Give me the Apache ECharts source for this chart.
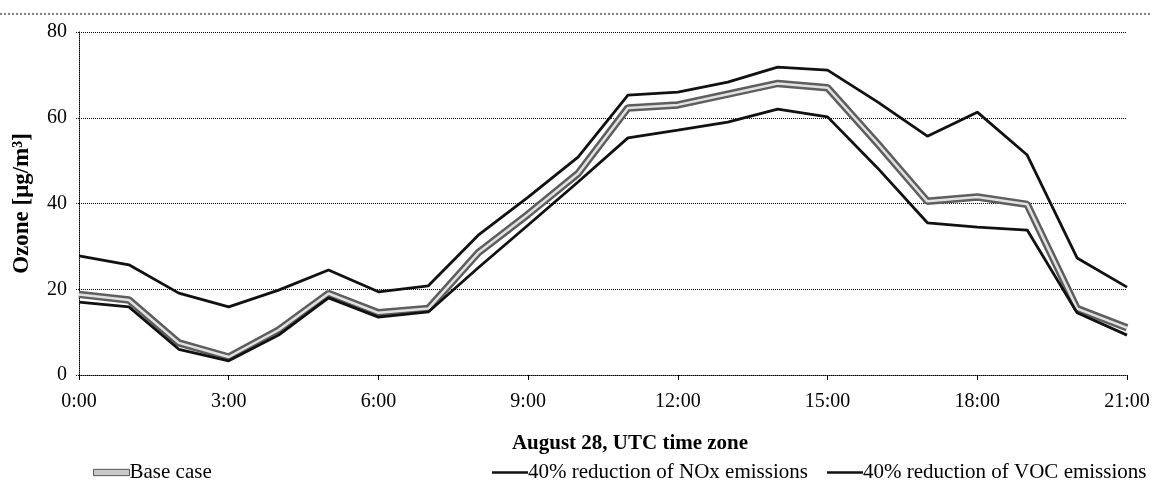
<!DOCTYPE html>
<html>
<head>
<meta charset="utf-8">
<title>Ozone scenarios, August 28</title>
<script src="https://cdn.jsdelivr.net/npm/echarts@6/dist/echarts.min.js"></script>
<style>
    html, body { margin: 0; padding: 0; background: #fff; }
    #chart { width: 1152px; height: 498px; }
</style>
</head>
<body>
<div id="chart"></div>
<script>
// Hourly ozone (ug/m3).
var HOURS = ['0:00', '1:00', '2:00', '3:00', '4:00', '5:00', '6:00', '7:00',
    '8:00', '9:00', '10:00', '11:00', '12:00', '13:00', '14:00', '15:00',
    '16:00', '17:00', '18:00', '19:00', '20:00', '21:00'];
var BASE_CASE = [18.8, 17.5, 7.5, 4.2, 10.5, 19, 14.5, 15.5, 28.5, 37.5, 47,
    62.3, 63, 65.5, 68, 67, 54, 40.5, 41.5, 39.8, 15.5, 11];
var NOX_CUT = [27.8, 25.7, 19.1, 15.9, 19.8, 24.5, 19.4, 20.8, 32.6, 41.5, 50.8,
    65.3, 66, 68.3, 71.8, 71.1, 63.7, 55.7, 61.3, 51.3, 27.3, 20.5];
var VOC_CUT = [17, 15.9, 6, 3.3, 9.3, 18, 13.5, 14.7, 25, 35, 45,
    55.3, 57.1, 59, 62, 60.2, 48.3, 35.5, 34.5, 33.8, 14.5, 9.3];
var Y_TICKS = [0, 20, 40, 60, 80];

(function () {
    'use strict';

    var FONT = '"Liberation Serif", "Times New Roman", serif';
    var INK = '#111';
    var names = ['Base case', '40% reduction of NOx emissions', '40% reduction of VOC emissions'];

    // One legend per entry so each can sit where the scan has it.
    function legendAt(left, item) {
        return {
            data: [item],
            left: left,
            top: 457,
            itemWidth: 36,
            itemHeight: 14,
            itemGap: 0,
            textStyle: { fontFamily: FONT, fontSize: 21, color: '#000', padding: [0, 0, 0, -5] }
        };
    }

    var lineIcon = 'path://M0,0 L36,0 L36,2.5 L0,2.5 Z';

    var chart = echarts.init(document.getElementById('chart'));
    chart.setOption({
        animation: false,
        backgroundColor: '#fff',
        grid: { left: 79, right: 25, top: 32, bottom: 123, outerBoundsMode: 'none' },
        graphic: [{
            // dotted frame edge along the top of the scan
            type: 'line',
            shape: { x1: 0, y1: 14, x2: 1152, y2: 14 },
            style: { stroke: '#000', lineWidth: 1, lineDash: [2, 2] }
        }],
        legend: [
            legendAt(88, {
                name: names[0],
                icon: 'path://M0,0 L40,0 L40,7 L0,7 Z',
                itemStyle: { color: '#c8c8c8', borderColor: '#555', borderWidth: 1 }
            }),
            legendAt(487, { name: names[1], icon: lineIcon, itemStyle: { color: INK } }),
            legendAt(822, { name: names[2], icon: lineIcon, itemStyle: { color: INK } })
        ],
        xAxis: {
            type: 'category',
            data: HOURS,
            boundaryGap: false,
            name: 'August 28, UTC time zone',
            nameLocation: 'middle',
            nameGap: 58,
            nameTextStyle: {
                fontFamily: FONT, fontSize: 21, fontWeight: 'bold', color: '#000',
                padding: [0, 0, 0, 54]
            },
            axisLine: { lineStyle: { color: '#000', type: 'dotted', width: 1 } },
            axisTick: { show: true, interval: 2, length: 5, lineStyle: { color: '#000' } },
            axisLabel: {
                interval: 2, margin: 17,
                fontFamily: FONT, fontSize: 20, color: '#000'
            },
            splitLine: { show: false }
        },
        yAxis: {
            type: 'value',
            min: Y_TICKS[0],
            max: Y_TICKS[Y_TICKS.length - 1],
            interval: 20,
            name: 'Ozone [\u03bcg/m\u00b3]',
            nameLocation: 'middle',
            nameGap: 45,
            nameTextStyle: { fontFamily: FONT, fontSize: 23, fontWeight: 'bold', color: '#000' },
            axisLine: { show: true, lineStyle: { color: '#000', type: 'dotted', width: 1 } },
            axisTick: { show: true, length: 4, lineStyle: { color: '#000', type: 'dotted' } },
            axisLabel: { margin: 12, fontFamily: FONT, fontSize: 20, color: '#000' },
            splitLine: { lineStyle: { color: '#000', type: 'dotted', width: 1 } }
        },
        series: [
            {
                name: names[0],
                type: 'line',
                data: BASE_CASE,
                symbol: 'none',
                color: '#c8c8c8',
                z: 3,
                lineStyle: { color: '#5e5e5e', width: 7.5 }
            },
            {
                // light core of the base case band, no legend entry
                name: 'base-core',
                type: 'line',
                data: BASE_CASE,
                symbol: 'none',
                z: 4,
                silent: true,
                lineStyle: { color: '#e2e2e2', width: 2.5 }
            },
            {
                name: names[1],
                type: 'line',
                data: NOX_CUT,
                symbol: 'none',
                color: INK,
                z: 5,
                lineStyle: { color: INK, width: 2.8 }
            },
            {
                name: names[2],
                type: 'line',
                data: VOC_CUT,
                symbol: 'none',
                color: INK,
                z: 5,
                lineStyle: { color: INK, width: 2.8 }
            }
        ]
    });
})();
</script>
</body>
</html>
